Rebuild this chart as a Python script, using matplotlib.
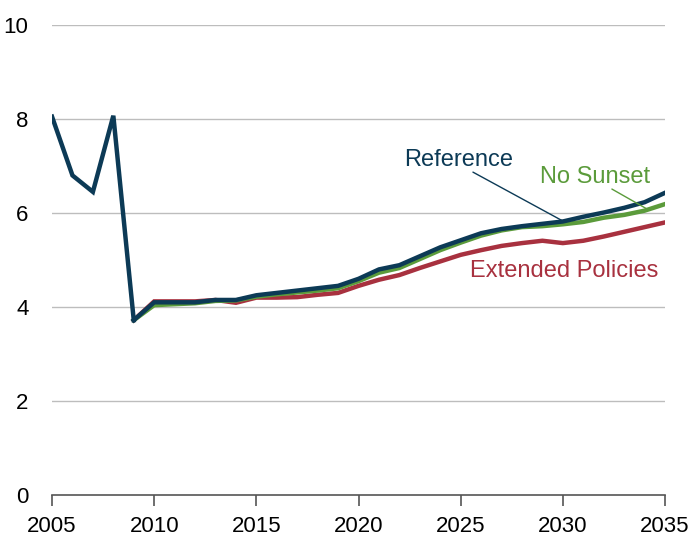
import matplotlib.pyplot as plt

plt.rcParams['font.family'] = ['Liberation Sans', 'DejaVu Sans']

# historical values shared by all cases
anios_hist = [2005, 2006, 2007, 2008, 2009]
hist = [8.05, 6.80, 6.45, 8.07, 3.72]

anios = list(range(2009, 2036))
referencia = [3.72, 4.10, 4.10, 4.10, 4.15, 4.15, 4.25, 4.30, 4.35, 4.40, 4.45, 4.60, 4.80, 4.89,
              5.08, 5.27, 5.42, 5.57, 5.66, 5.72, 5.77, 5.82, 5.92, 6.01, 6.11, 6.23, 6.43]
no_sunset = [3.72, 4.04, 4.06, 4.08, 4.13, 4.14, 4.22, 4.27, 4.31, 4.35, 4.40, 4.55, 4.73, 4.83,
             5.02, 5.21, 5.37, 5.52, 5.63, 5.70, 5.72, 5.76, 5.81, 5.90, 5.96, 6.05, 6.19]
extendidas = [3.72, 4.12, 4.12, 4.12, 4.15, 4.09, 4.20, 4.20, 4.21, 4.26, 4.30, 4.45, 4.58, 4.68,
              4.83, 4.97, 5.11, 5.21, 5.30, 5.36, 5.41, 5.36, 5.41, 5.50, 5.60, 5.70, 5.80]

c_ref = '#0c3a56'
c_ns = '#5b9b3b'
c_ext = '#a8313f'

fig = plt.figure(figsize=(6.91, 5.37), dpi=100)
ax = fig.add_axes([0.0753, 0.0782, 0.8871, 0.8752])

ax.plot(anios, extendidas, color=c_ext, lw=3.2, solid_joinstyle='miter')
ax.plot(anios, no_sunset, color=c_ns, lw=3.2, solid_joinstyle='miter')
ax.plot(anios, referencia, color=c_ref, lw=3.2, solid_joinstyle='miter')
ax.plot(anios_hist, hist, color=c_ref, lw=3.2, solid_joinstyle='miter')

ax.set_xlim(2005, 2035)
ax.set_ylim(0, 10)
ax.set_yticks([0, 2, 4, 6, 8, 10])
ax.set_xticks(range(2005, 2036, 5))
for v in [2, 4, 6, 8, 10]:
    ax.axhline(v, color='#bdbdbd', lw=1, zorder=0)

for s in ['top', 'right', 'left']:
    ax.spines[s].set_visible(False)
ax.spines['bottom'].set_color('#555555')
ax.spines['bottom'].set_linewidth(1.2)
ax.tick_params(axis='y', length=0, labelsize=16, pad=17)
ax.tick_params(axis='x', length=8, width=1.2, color='#555555', direction='out', labelsize=16, pad=7)

# etiquetas de las series
ax.text(2024.9, 7.13, 'Reference', color=c_ref, fontsize=17, ha='center', va='center')
ax.annotate('', xy=(2030.0, 5.83), xytext=(2025.6, 6.87),
            arrowprops=dict(arrowstyle='-', color=c_ref, lw=1, shrinkA=0, shrinkB=0))
ax.text(2031.6, 6.77, 'No Sunset', color=c_ns, fontsize=17, ha='center', va='center')
ax.annotate('', xy=(2034.1, 6.09), xytext=(2032.4, 6.51),
            arrowprops=dict(arrowstyle='-', color=c_ns, lw=1, shrinkA=0, shrinkB=0))
ax.text(2030.06, 4.77, 'Extended Policies', color=c_ext, fontsize=17, ha='center', va='center')

fig.savefig('out.png', dpi=100)
